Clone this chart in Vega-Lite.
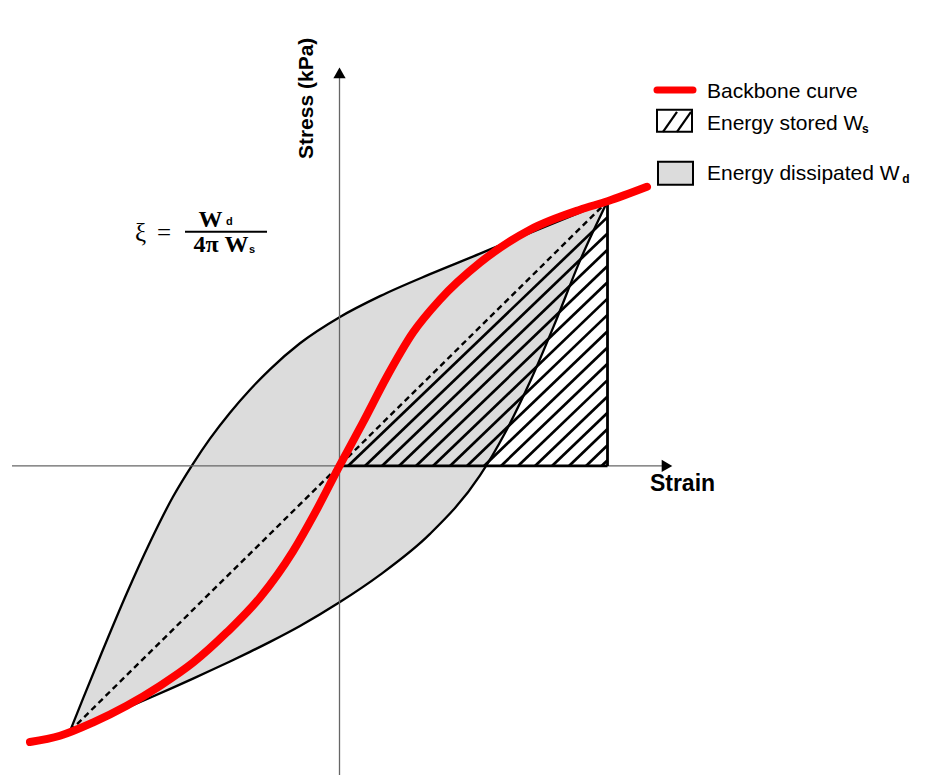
{
  "$schema": "https://vega.github.io/schema/vega-lite/v6.json",
  "width": 925,
  "height": 776,
  "autosize": {"type": "fit", "contains": "padding"},
  "padding": 0,
  "background": "white",
  "config": {"view": {"stroke": null}},
  "datasets": {
    "loop": [
      {"strain": -1.0056, "upper": -100.19, "lower": -100.19},
      {"strain": -0.9571, "upper": -87.92, "lower": -98.23},
      {"strain": -0.8937, "upper": -72.19, "lower": -95.58},
      {"strain": -0.7929, "upper": -47.92, "lower": -91.32},
      {"strain": -0.7071, "upper": -28.83, "lower": -87.58},
      {"strain": -0.6213, "upper": -11.66, "lower": -83.77},
      {"strain": -0.5466, "upper": 0.79, "lower": -80.38},
      {"strain": -0.4832, "upper": 10.3, "lower": -77.43},
      {"strain": -0.4086, "upper": 20.11, "lower": -73.89},
      {"strain": -0.334, "upper": 28.79, "lower": -70.26},
      {"strain": -0.2593, "upper": 36.49, "lower": -66.49},
      {"strain": -0.1474, "upper": 46.34, "lower": -60.49},
      {"strain": 0.0, "upper": 56.19, "lower": -51.55},
      {"strain": 0.1511, "upper": 64.15, "lower": -41.17},
      {"strain": 0.3377, "upper": 72.45, "lower": -25.7},
      {"strain": 0.5243, "upper": 80.19, "lower": -3.62},
      {"strain": 0.6175, "upper": 84.15, "lower": 12.42},
      {"strain": 0.7108, "upper": 88.0, "lower": 31.77},
      {"strain": 0.8041, "upper": 91.89, "lower": 53.96},
      {"strain": 0.8974, "upper": 95.74, "lower": 77.55},
      {"strain": 1.0, "upper": 100, "lower": 100}
    ],
    "backbone": [
      {"strain": -1.1549, "stress": -104.34},
      {"strain": -1.0429, "stress": -101.96},
      {"strain": -0.9187, "stress": -96.91},
      {"strain": -0.794, "stress": -90.64},
      {"strain": -0.6698, "stress": -83.09},
      {"strain": -0.5455, "stress": -74.26},
      {"strain": -0.4209, "stress": -62.94},
      {"strain": -0.2966, "stress": -49.7},
      {"strain": -0.1735, "stress": -32.26},
      {"strain": -0.0914, "stress": -17.74},
      {"strain": 0.0, "stress": 0.0},
      {"strain": 0.0877, "stress": 16.42},
      {"strain": 0.1772, "stress": 33.77},
      {"strain": 0.2743, "stress": 50.38},
      {"strain": 0.375, "stress": 62.83},
      {"strain": 0.5243, "stress": 76.79},
      {"strain": 0.7108, "stress": 89.25},
      {"strain": 0.8974, "stress": 96.79},
      {"strain": 1.0, "stress": 100},
      {"strain": 1.1474, "stress": 105.47}
    ],
    "secant": [
      {"strain": -1.0056, "stress": -100.19},
      {"strain": 1.0, "stress": 100}
    ],
    "hatch": [
      {"strain": 0.0317, "stress": 0, "strain2": 1, "stress2": 94.01},
      {"strain": 0.0951, "stress": 0, "strain2": 1, "stress2": 87.85},
      {"strain": 0.1586, "stress": 0, "strain2": 1, "stress2": 81.69},
      {"strain": 0.222, "stress": 0, "strain2": 1, "stress2": 75.53},
      {"strain": 0.2854, "stress": 0, "strain2": 1, "stress2": 69.37},
      {"strain": 0.3489, "stress": 0, "strain2": 1, "stress2": 63.21},
      {"strain": 0.4123, "stress": 0, "strain2": 1, "stress2": 57.06},
      {"strain": 0.4757, "stress": 0, "strain2": 1, "stress2": 50.9},
      {"strain": 0.5392, "stress": 0, "strain2": 1, "stress2": 44.74},
      {"strain": 0.6026, "stress": 0, "strain2": 1, "stress2": 38.58},
      {"strain": 0.666, "stress": 0, "strain2": 1, "stress2": 32.42},
      {"strain": 0.7295, "stress": 0, "strain2": 1, "stress2": 26.26},
      {"strain": 0.7929, "stress": 0, "strain2": 1, "stress2": 20.11},
      {"strain": 0.8563, "stress": 0, "strain2": 1, "stress2": 13.95},
      {"strain": 0.9198, "stress": 0, "strain2": 1, "stress2": 7.79},
      {"strain": 0.9776, "stress": 0, "strain2": 1, "stress2": 2.17}
    ],
    "triangle": [
      {"strain": 0, "stress": 0, "strain2": 1, "stress2": 0},
      {"strain": 1, "stress": 0, "strain2": 1, "stress2": 100}
    ],
    "axes": [
      {"strain": -1.222, "stress": 0, "strain2": 1.2071, "stress2": 0},
      {"strain": 0, "stress": -116.79, "strain2": 0, "stress2": 146.6}
    ],
    "arrows": [
      {"strain": 1.222, "stress": 0, "dir": "right"},
      {"strain": 0, "stress": 148.49, "dir": "up"}
    ]
  },
  "encoding": {
    "x": {"field": "strain", "type": "quantitative", "scale": {"domain": [-1.2668, 2.1847], "nice": false, "zero": false}, "axis": null},
    "y": {"field": "stress", "type": "quantitative", "scale": {"domain": [-116.79, 176.04], "nice": false, "zero": false}, "axis": null}
  },
  "layer": [
    {
      "data": {"name": "loop"},
      "mark": {"type": "area", "interpolate": "monotone", "fill": "#dcdcdc", "stroke": "black", "strokeWidth": 2.3},
      "encoding": {
        "y": {"field": "upper", "type": "quantitative", "scale": {"domain": [-116.79, 176.04], "nice": false, "zero": false}, "axis": null},
        "y2": {"field": "lower"}
      }
    },
    {
      "data": {"name": "axes"},
      "mark": {"type": "rule", "stroke": "#666666", "strokeWidth": 1.3},
      "encoding": {"x2": {"field": "strain2"}, "y2": {"field": "stress2"}}
    },
    {
      "data": {"name": "arrows"},
      "mark": {"type": "point", "filled": true, "fill": "black", "size": 150, "opacity": 1, "strokeWidth": 0},
      "encoding": {
        "shape": {"field": "dir", "type": "nominal", "scale": {"domain": ["right", "up"], "range": ["triangle-right", "triangle-up"]}, "legend": null}
      }
    },
    {
      "data": {"name": "hatch"},
      "mark": {"type": "rule", "stroke": "black", "strokeWidth": 2.7},
      "encoding": {"x2": {"field": "strain2"}, "y2": {"field": "stress2"}}
    },
    {
      "data": {"name": "triangle"},
      "mark": {"type": "rule", "stroke": "black", "strokeWidth": 2.8},
      "encoding": {"x2": {"field": "strain2"}, "y2": {"field": "stress2"}}
    },
    {
      "data": {"name": "secant"},
      "mark": {"type": "line", "stroke": "black", "strokeWidth": 2.4, "strokeDash": [6, 4]},
      "encoding": {}
    },
    {
      "data": {"name": "backbone"},
      "mark": {"type": "line", "interpolate": "monotone", "stroke": "#ff0000", "strokeWidth": 8, "strokeCap": "round"},
      "encoding": {}
    },
    {
      "data": {"values": [{"strain": 1.1847, "stress": 142.08, "strain2": 1.319, "stress2": 142.08}]},
      "mark": {"type": "rule", "stroke": "#ff0000", "strokeWidth": 7, "strokeCap": "round"},
      "encoding": {"x2": {"field": "strain2"}, "y2": {"field": "stress2"}}
    },
    {
      "data": {"values": [
        {"strain": 1.1847, "stress": 134.53, "strain2": 1.3153, "stress2": 126.23, "item": "stored"},
        {"strain": 1.1884, "stress": 114.91, "strain2": 1.319, "stress2": 106.23, "item": "dissipated"}
      ]},
      "mark": {"type": "rect", "stroke": "black", "strokeWidth": 2},
      "encoding": {
        "x2": {"field": "strain2"},
        "y2": {"field": "stress2"},
        "fill": {"field": "item", "type": "nominal", "scale": {"domain": ["stored", "dissipated"], "range": ["rgba(255,255,255,0)", "#dcdcdc"]}, "legend": null}
      }
    },
    {
      "data": {"values": [
        {"strain": 1.2071, "stress": 126.23, "strain2": 1.2593, "stress2": 133.77},
        {"strain": 1.2593, "stress": 126.23, "strain2": 1.3116, "stress2": 133.77}
      ]},
      "mark": {"type": "rule", "stroke": "black", "strokeWidth": 2.2},
      "encoding": {"x2": {"field": "strain2"}, "y2": {"field": "stress2"}}
    },
    {
      "data": {"values": [
        {"strain": 1.3713, "stress": 139.06, "label": "Backbone curve"},
        {"strain": 1.3713, "stress": 126.98, "label": "Energy stored W"},
        {"strain": 1.3713, "stress": 108.11, "label": "Energy dissipated W"}
      ]},
      "mark": {"type": "text", "font": "Liberation Sans", "fontSize": 21, "align": "left", "baseline": "alphabetic", "fill": "black"},
      "encoding": {"text": {"field": "label"}}
    },
    {
      "data": {"values": [
        {"strain": 1.9496, "stress": 125.6, "label": "s"},
        {"strain": 2.0996, "stress": 106.8, "label": "d"}
      ]},
      "mark": {"type": "text", "font": "Liberation Sans", "fontSize": 12, "fontWeight": "bold", "align": "left", "baseline": "alphabetic", "fill": "black"},
      "encoding": {"text": {"field": "label"}}
    },
    {
      "data": {"values": [{"strain": -0.1213, "stress": 138.87, "label": "Stress (kPa)"}]},
      "mark": {"type": "text", "font": "Liberation Sans", "fontSize": 21, "fontWeight": "bold", "angle": 270, "align": "center", "baseline": "middle", "fill": "black"},
      "encoding": {"text": {"field": "label"}}
    },
    {
      "data": {"values": [{"strain": 1.2799, "stress": -6.98, "label": "Strain"}]},
      "mark": {"type": "text", "font": "Liberation Sans", "fontSize": 23, "fontWeight": "bold", "align": "center", "baseline": "middle", "fill": "black"},
      "encoding": {"text": {"field": "label"}}
    },
    {
      "data": {"values": [
        {"strain": -0.7631, "stress": 85.09, "label": "ξ"},
        {"strain": -0.681, "stress": 85.09, "label": "="}
      ]},
      "mark": {"type": "text", "font": "Liberation Serif", "fontSize": 25, "align": "left", "baseline": "alphabetic", "fill": "black"},
      "encoding": {"text": {"field": "label"}}
    },
    {
      "data": {"values": [
        {"strain": -0.4813, "stress": 90.38, "label": "W"},
        {"strain": -0.4422, "stress": 80.94, "label": "4π W"}
      ]},
      "mark": {"type": "text", "font": "Liberation Serif", "fontSize": 24, "fontWeight": "bold", "align": "center", "baseline": "alphabetic", "fill": "black"},
      "encoding": {"text": {"field": "label"}}
    },
    {
      "data": {"values": [
        {"strain": -0.4235, "stress": 91.13, "label": "d"},
        {"strain": -0.3377, "stress": 80.57, "label": "s"}
      ]},
      "mark": {"type": "text", "font": "Liberation Sans", "fontSize": 11, "fontWeight": "bold", "align": "left", "baseline": "alphabetic", "fill": "black"},
      "encoding": {"text": {"field": "label"}}
    },
    {
      "data": {"values": [{"strain": -0.5765, "stress": 88.49, "strain2": -0.2705, "stress2": 88.49}]},
      "mark": {"type": "rule", "stroke": "black", "strokeWidth": 2},
      "encoding": {"x2": {"field": "strain2"}, "y2": {"field": "stress2"}}
    }
  ]
}
